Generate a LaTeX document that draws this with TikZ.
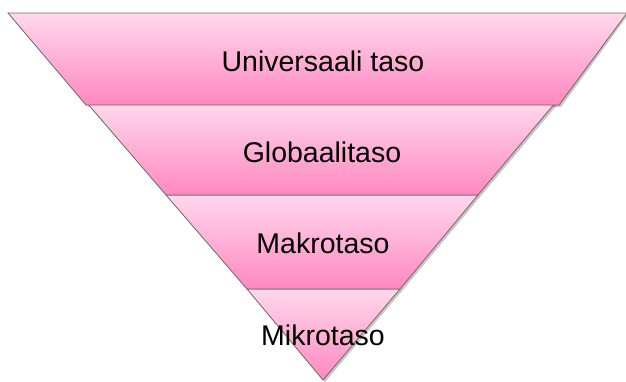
\documentclass[tikz,border=0pt]{standalone}
\usepackage{fontspec}
\setmainfont{Liberation Sans}
\definecolor{pinklight}{RGB}{255,216,236}
\definecolor{pinkdark}{RGB}{255,136,192}
\definecolor{edgegray}{RGB}{105,105,105}
\tikzset{
  band/.style={top color=pinklight, bottom color=pinkdark, draw=edgegray, line width=0.8pt, line join=miter},
  bandshadow/.style={fill=black, opacity=0.22},
  lbl/.style={font=\fontsize{28.5}{31}\selectfont, text=black, inner sep=0pt}
}
\begin{document}
\begin{tikzpicture}[x=1pt,y=-1pt]
\useasboundingbox (0,0) rectangle (626,381);
\fill[white] (0,0) rectangle (626,381);
% shadows
\fill[bandshadow] (249,291) -- (402,291) -- (325,382) -- cycle;
\fill[bandshadow] (168,197) -- (480,197) -- (402,291) -- (249,291) -- cycle;
\fill[bandshadow] (89,105) -- (557,105) -- (480,197) -- (168,197) -- cycle;
\fill[bandshadow] (10,15) -- (628,15) -- (561,107) -- (88,107) -- cycle;
% bands from bottom to top
\shade[band] (247,289) -- (400,289) -- (323,380) -- cycle;
\shade[band] (166,195) -- (478,195) -- (400,289) -- (247,289) -- cycle;
\shade[band] (87,103) -- (555,103) -- (478,195) -- (166,195) -- cycle;
\shade[band] (8,13) -- (627,13) -- (559,105) -- (86,105) -- cycle;
% labels
\node[lbl] (universal) at (323,61) {Universaali taso};
\node[lbl] (global) at (322,152) {Globaalitaso};
\node[lbl] (macro) at (323,243) {Makrotaso};
\node[lbl] (micro) at (323,335) {Mikrotaso};
\end{tikzpicture}
\end{document}
